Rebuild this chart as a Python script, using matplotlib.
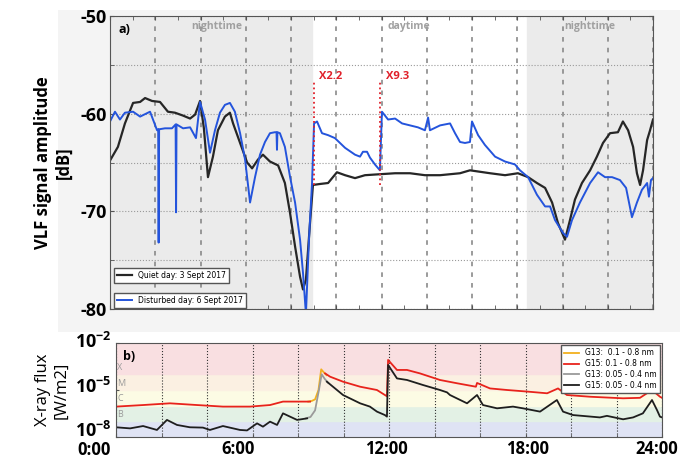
import matplotlib
matplotlib.use('Agg')
import matplotlib.pyplot as plt
import matplotlib.transforms as mtransforms
import numpy as np

plt.rcParams['font.family'] = ['Open Sans', 'DejaVu Sans']
plt.rcParams['mathtext.fontset'] = 'custom'
plt.rcParams['mathtext.rm'] = 'Open Sans'
plt.rcParams['mathtext.bf'] = 'Open Sans:bold'

# VLF amplitude, quiet day (3 Sept 2017)
quiet_h = [0.0, 0.35, 0.66, 1.02, 1.33, 1.55, 1.86, 2.21, 2.56, 2.87, 3.23, 3.54, 3.76, 3.98,
           4.15, 4.33, 4.55, 4.77, 5.08, 5.30, 5.44, 5.75, 6.06, 6.28, 6.54, 6.76, 7.07, 7.43,
           7.73, 7.96, 8.18, 8.40, 8.53, 8.66, 8.84, 8.97, 9.28, 9.64, 10.03, 10.39, 10.83,
           11.27, 11.93, 12.60, 13.26, 13.92, 14.59, 15.47, 15.91, 16.80, 17.46, 18.03, 18.48,
           18.87, 19.23, 19.54, 19.80, 20.11, 20.33, 20.55, 20.86, 21.22, 21.52, 21.79, 22.10,
           22.45, 22.67, 22.90, 23.12, 23.29, 23.43, 23.56, 23.74, 23.87, 24.0]
quiet_db = [-64.8, -63.4, -61.0, -58.9, -58.8, -58.4, -58.7, -58.8, -59.8, -59.9, -60.2, -60.5,
            -60.1, -58.7, -61.5, -66.5, -64.4, -61.7, -60.3, -59.9, -61.0, -63.0, -65.0, -65.6,
            -64.7, -64.2, -64.9, -65.3, -67.1, -70.2, -73.6, -76.7, -78.0, -77.0, -71.2, -67.3,
            -67.2, -67.1, -66.0, -66.3, -66.6, -66.3, -66.2, -66.1, -66.1, -66.3, -66.3, -66.1,
            -65.8, -66.1, -66.3, -66.1, -66.5, -67.1, -67.6, -69.1, -71.2, -72.9, -70.9, -68.8,
            -67.1, -65.8, -64.4, -63.0, -62.0, -61.9, -60.8, -61.7, -63.4, -66.1, -67.3, -65.8,
            -62.7, -61.7, -60.6]

# VLF amplitude, disturbed day (6 Sept 2017)
dist_h = [0.0, 0.22, 0.44, 0.66, 1.02, 1.33, 1.68, 1.77, 2.08, 2.13, 2.15, 2.17, 2.43, 2.74,
          2.90, 2.92, 2.94, 3.23, 3.54, 3.80, 3.98, 4.20, 4.42, 4.64, 4.86, 5.08, 5.30, 5.52,
          5.75, 5.97, 6.19, 6.41, 6.63, 6.85, 7.07, 7.29, 7.36, 7.38, 7.40, 7.51, 7.73, 7.96,
          8.18, 8.40, 8.53, 8.66, 8.80, 8.93, 9.02, 9.15, 9.37, 9.64, 9.94, 10.39, 10.83,
          11.05, 11.18, 11.36, 11.49, 11.71, 11.93, 12.02, 12.29, 12.60, 12.91, 13.26, 13.61,
          13.92, 14.06, 14.14, 14.59, 15.03, 15.25, 15.47, 15.69, 15.91, 16.00, 16.27, 16.57,
          17.02, 17.46, 17.90, 18.12, 18.48, 18.87, 19.23, 19.45, 19.67, 20.02, 20.20, 20.42,
          20.77, 21.22, 21.57, 21.88, 22.19, 22.54, 22.81, 23.07, 23.29, 23.51, 23.74, 23.82,
          23.91, 24.0]
dist_db = [-60.8, -59.8, -60.6, -59.9, -59.8, -60.3, -59.9, -59.8, -61.7, -61.6, -73.2, -61.6,
           -61.5, -61.5, -61.1, -70.1, -61.1, -61.5, -61.4, -62.5, -58.8, -60.6, -64.0, -61.7,
           -59.9, -59.1, -58.9, -59.8, -62.0, -64.7, -69.1, -66.5, -64.2, -62.9, -62.0, -61.9,
           -61.9, -63.7, -61.9, -62.0, -63.4, -66.5, -69.1, -72.9, -76.3, -80.5, -72.6, -67.1,
           -61.0, -60.8, -62.0, -62.2, -62.5, -63.5, -64.2, -64.4, -63.9, -63.9, -64.5, -65.2,
           -65.8, -59.8, -60.6, -60.5, -61.0, -61.2, -61.4, -61.7, -60.4, -61.7, -61.2, -61.0,
           -62.0, -62.9, -63.0, -62.9, -60.8, -62.2, -63.2, -64.4, -64.9, -65.2, -65.8, -66.5,
           -68.3, -69.5, -69.5, -70.9, -72.2, -72.6, -70.9, -69.1, -67.1, -66.0, -66.5, -66.5,
           -66.8, -67.6, -70.6, -69.1, -67.8, -67.1, -68.5, -66.8, -66.6]

flare_h = [9.0, 11.93]
flare_names = ['X2.2', 'X9.3']
night_spans = [(0.0, 8.93), (18.45, 24.0)]

# GOES X-ray flux, log10(W/m2)
g15_long_h = [0.0, 1.19, 2.37, 3.56, 4.70, 5.89, 6.77, 7.34, 7.96, 8.53, 8.7, 9.19, 9.41, 9.98,
              10.73, 11.47, 11.82, 11.91, 11.96, 12.35, 12.79, 13.36, 14.24, 14.99, 15.82,
              15.87, 16.44, 17.19, 18.07, 18.95, 19.43, 19.82, 20.84, 22.29, 23.03, 23.56,
              23.91, 24.0]
g15_long = [-6.06, -5.96, -5.85, -5.96, -6.06, -6.06, -5.96, -5.74, -5.74, -5.74, np.nan,
            -3.94, -4.15, -4.47, -4.79, -5.0, -5.32, -5.4, -3.08, -3.72, -3.72, -3.94, -4.36,
            -4.57, -4.79, -4.55, -4.9, -5.0, -5.1, -5.21, -4.9, -5.32, -5.43, -5.53, -5.5,
            -5.0, -5.43, -5.5]
g15_short_h = [0.0, 0.62, 1.19, 1.80, 2.24, 2.68, 3.25, 3.82, 4.13, 4.70, 5.45, 5.76, 6.20,
               6.46, 6.77, 7.08, 7.34, 7.65, 7.96, 8.40, 8.6, 9.27, 9.98, 10.73, 11.16, 11.47,
               11.82, 11.91, 11.96, 12.35, 12.79, 13.49, 14.24, 14.55, 14.68, 15.43, 15.87,
               16.13, 16.75, 17.45, 17.89, 18.64, 19.38, 19.65, 20.09, 21.27, 21.58, 22.29,
               22.73, 23.16, 23.56, 23.78, 23.91, 24.0]
g15_short = [-7.38, -7.45, -7.30, -7.55, -6.91, -7.23, -7.38, -7.40, -7.55, -7.30, -7.55,
             -7.58, -7.13, -7.34, -7.02, -7.23, -6.49, -6.70, -6.91, -6.81, np.nan, -4.47,
             -5.32, -5.85, -6.06, -6.38, -6.60, -6.70, -3.40, -4.26, -4.36, -4.68, -5.0,
             -5.15, -5.32, -5.85, -5.32, -5.96, -6.17, -6.06, -6.17, -6.38, -5.64, -6.38,
             -6.60, -6.75, -6.65, -6.87, -6.75, -6.49, -5.64, -6.28, -6.70, -6.75]
g13_long_h = [8.45, 8.6, 8.75, 8.9, 9.02, 9.12, 9.25]
g13_long = [-5.74, -5.7, -5.6, -5.0, -3.68, -3.85, -4.05]
g13_short_h = [8.35, 8.55, 8.75, 8.92, 9.04, 9.18, 9.33]
g13_short = [-6.81, -6.72, -6.3, -5.0, -4.0, -4.3, -4.55]

classes = ['A', 'B', 'C', 'M', 'X']
class_lo = [-8, -7, -6, -5, -4]
class_hi = [-7, -6, -5, -4, -2]
class_colors = ['#dfe3f4', '#e3f1e5', '#fcfbe4', '#fbf0e2', '#f9dfe1']

fig = plt.figure(figsize=(6.88, 4.59), dpi=100)
bg = fig.add_axes([58 / 688, 1 - 332 / 459, 622 / 688, 322 / 459], zorder=-5)
bg.set_facecolor('#f4f4f4')
bg.set_xticks([])
bg.set_yticks([])
for s in bg.spines.values():
    s.set_visible(False)

def shift(labels, dx, dy):
    # nudge tick labels by a few pixels
    for lab, x, y in zip(labels, dx, dy):
        lab.set_transform(lab.get_transform() +
                          mtransforms.ScaledTranslation(x / 100, y / 100, fig.dpi_scale_trans))

# ---- panel a ----
ax1 = fig.add_axes([110 / 688, 1 - 309 / 459, 543 / 688, 293 / 459])
for a, b in night_spans:
    ax1.axvspan(a, b, color='#ebebeb', zorder=0)
ax1.plot(quiet_h, quiet_db, color='#262626', lw=1.6, label='Quiet day: 3 Sept 2017')
ax1.plot(dist_h, dist_db, color='#2454dc', lw=1.4, label='Disturbed day: 6 Sept 2017')
for h, name in zip(flare_h, flare_names):
    ax1.plot([h, h], [-67.3, -56.6], ls=':', color='#e0202a', lw=1.3)
    ax1.text(h + 0.25, -56.8, name, color='#e0202a', fontsize=8, fontweight='bold',
             va='bottom')
ax1.set_xlim(0, 24)
ax1.set_ylim(-80, -50)
ax1.set_xticks(range(0, 25, 2))
ax1.set_xticks(range(0, 25, 1), minor=True)
ax1.set_xticklabels([])
ax1.set_yticks([-80, -70, -60, -50])
ax1.set_yticks([-75, -65, -55], minor=True)
ax1.set_yticklabels(['-80', '-70', '-60', '-50'], fontsize=13, fontweight='bold')
ax1.tick_params(which='both', direction='in', right=True, top=True, length=3, color='#555')
ax1.tick_params(axis='y', pad=2)
ax1.xaxis.grid(True, ls=(0, (3, 4)), color='#808080', lw=1.1)
ax1.yaxis.grid(True, which='both', ls=':', color='#9a9a9a', lw=0.8)
for s in ax1.spines.values():
    s.set_color('#555555')
ax1.set_ylabel('VLF signal amplitude\n[dB]', fontsize=12, fontweight='bold', labelpad=6)
ax1.text(0.015, 0.975, 'a)', transform=ax1.transAxes, fontsize=9, fontweight='bold', va='top')
ax1.text(4.7, -51.3, 'nighttime', color='#a0a0a0', fontsize=7.5, fontweight='bold', ha='center')
ax1.text(13.2, -51.3, 'daytime', color='#a0a0a0', fontsize=7.5, fontweight='bold', ha='center')
ax1.text(21.2, -51.3, 'nighttime', color='#a0a0a0', fontsize=7.5, fontweight='bold', ha='center')
lines = ax1.get_lines()
leg_kw = dict(framealpha=1, fancybox=False, edgecolor='#555', handlelength=2, borderpad=0.4,
              prop={'family': 'DejaVu Sans', 'size': 5.5})
leg1 = ax1.legend([lines[0]], [lines[0].get_label()], loc='lower left',
                  bbox_to_anchor=(0.0, 0.075), **leg_kw)
ax1.add_artist(leg1)
ax1.legend([lines[1]], [lines[1].get_label()], loc='lower left',
           bbox_to_anchor=(0.0, -0.01), **leg_kw)

# ---- panel b ----
ax2 = fig.add_axes([116 / 688, 1 - 437 / 459, 546 / 688, 94 / 459])
for lo, hi, c in zip(class_lo, class_hi, class_colors):
    ax2.axhspan(10.0 ** lo, 10.0 ** hi, color=c, zorder=0)
for name, lo in zip(classes[1:], class_lo[1:]):
    ax2.text(0.05, 10.0 ** (lo + 0.15), name, color='#9a9a9a', fontsize=6.5, va='bottom')
ax2.plot(g13_long_h, 10.0 ** np.array(g13_long), color='#f2b01e', lw=1.3,
         label='G13:  0.1 - 0.8 nm')
ax2.plot(g15_long_h, 10.0 ** np.array(g15_long), color='#e8231c', lw=1.3,
         label='G15: 0.1 - 0.8 nm')
ax2.plot(g13_short_h, 10.0 ** np.array(g13_short), color='#9a9a9a', lw=1.3,
         label='G13: 0.05 - 0.4 nm')
ax2.plot(g15_short_h, 10.0 ** np.array(g15_short), color='#1e1e1e', lw=1.3,
         label='G15: 0.05 - 0.4 nm')
ax2.set_yscale('log')
ax2.set_xlim(0, 24)
ax2.set_ylim(1e-8, 1e-2)
ax2.set_yticks([1e-8, 1e-5, 1e-2])
ax2.set_yticks([], minor=True)
ax2.set_yticklabels([r'$\mathbf{10^{-8}}$', r'$\mathbf{10^{-5}}$', r'$\mathbf{10^{-2}}$'],
                    fontsize=13)
ax2.set_xticks(range(0, 25, 6))
ax2.set_xticks(range(0, 25, 2), minor=True)
ax2.set_xticklabels(['0:00', '6:00', '12:00', '18:00', '24:00'], fontsize=12,
                    fontweight='bold')
ax2.tick_params(which='both', direction='in', length=2, color='#555')
ax2.tick_params(axis='y', pad=3)
ax2.tick_params(axis='x', pad=2)
# the time labels in the original sit a little left of their ticks
shift(ax2.get_xticklabels(), [-22, -14, -3, 2, -5], [-1, 0, 0, 0, 0])
shift(ax2.get_yticklabels(), [0, 0, 0], [8, 5, 3])
ax2.xaxis.grid(True, which='both', ls=':', color='#333', lw=0.8)
for s in ax2.spines.values():
    s.set_color('#555555')
ax2.set_ylabel('X-ray flux\n[W/m2]', fontsize=12, labelpad=4)
ax2.text(0.012, 0.93, 'b)', transform=ax2.transAxes, fontsize=9, fontweight='bold', va='top')
ax2.legend(loc='upper right', prop={'family': 'DejaVu Sans', 'size': 5.5}, framealpha=1,
           fancybox=False, edgecolor='#555', handlelength=2, borderpad=0.4,
           labelspacing=0.25, borderaxespad=0.3)

fig.savefig('out.png', dpi=100)
